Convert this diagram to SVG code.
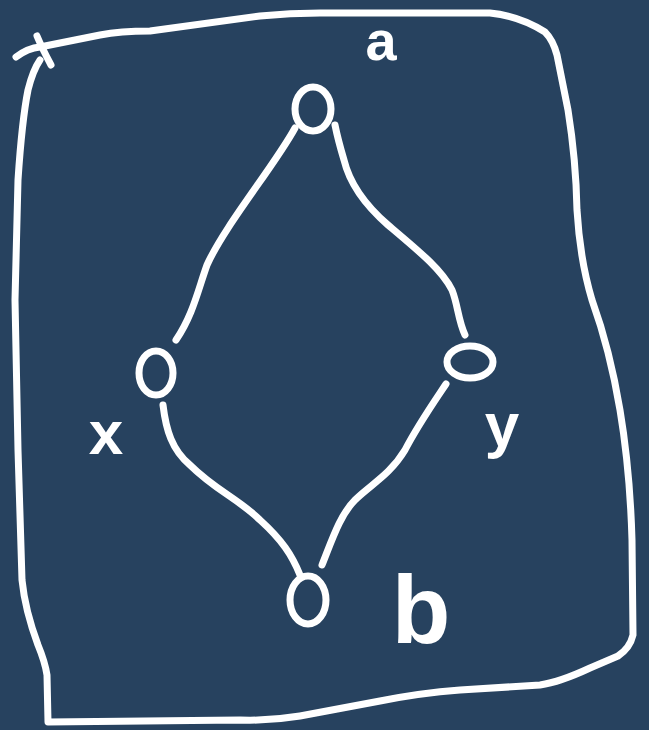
<svg xmlns="http://www.w3.org/2000/svg" width="649" height="730" viewBox="0 0 649 730">
<style>
.ln{fill:none;stroke:#ffffff;stroke-width:7;stroke-linecap:round;stroke-linejoin:round}
.nd{fill:none;stroke:#ffffff;stroke-width:7}
.lb{fill:#ffffff;font-family:"Liberation Sans",Arial,sans-serif;font-weight:bold}
</style>
<rect width="649" height="730" fill="#27425f"/>
<g id="frame">
<path class="ln" d="M16,57 Q28,48 40,47 L100,35 Q120,31 150,31 L260,16 Q290,13 320,13 L490,13 Q520,16 545,32 Q553,40 557,55 L568,110 Q576,160 577,210 Q580,260 592,300 Q610,350 620,410 Q630,470 632,540 L633,635 Q630,648 618,656 L590,668 Q560,682 540,685 L460,690 Q420,693 380,701 L300,716 Q270,721 240,720 L48,722 L47,675 Q45,662 38,645 Q25,610 22,580 L18,450 L15,300 L18,180 Q22,120 28,90 Q33,70 40,60"/>
<path class="ln" d="M37,36 Q42,48 51,65"/>
</g>
<g id="connectors">
<path class="ln" d="M295,128 C275,165 225,225 207,265 C198,290 193,315 176,340"/>
<path class="ln" d="M335,125 C338,140 341,150 344,160 C350,185 365,205 388,225 C420,252 442,270 452,290 C458,305 458,320 465,335"/>
<path class="ln" d="M163,405 C166,430 172,450 190,465 C215,490 240,500 260,520 C282,540 292,555 300,575"/>
<path class="ln" d="M446,384 C432,405 418,425 405,450 C390,475 370,485 355,500 C340,515 332,540 322,565"/>
</g>
<g id="node-a">
<ellipse class="nd" cx="313" cy="109" rx="18" ry="22"/>
<text class="lb" x="381" y="60" font-size="56" text-anchor="middle">a</text>
</g>
<g id="node-x">
<ellipse class="nd" cx="156" cy="373" rx="17" ry="22"/>
<text class="lb" x="106" y="454" font-size="62" text-anchor="middle">x</text>
</g>
<g id="node-y">
<ellipse class="nd" cx="470" cy="362" rx="23" ry="16"/>
<text class="lb" x="502" y="446" font-size="62" text-anchor="middle">y</text>
</g>
<g id="node-b">
<ellipse class="nd" cx="308" cy="600" rx="18" ry="24"/>
<text class="lb" x="421" y="643" font-size="96" text-anchor="middle">b</text>
</g>
</svg>
